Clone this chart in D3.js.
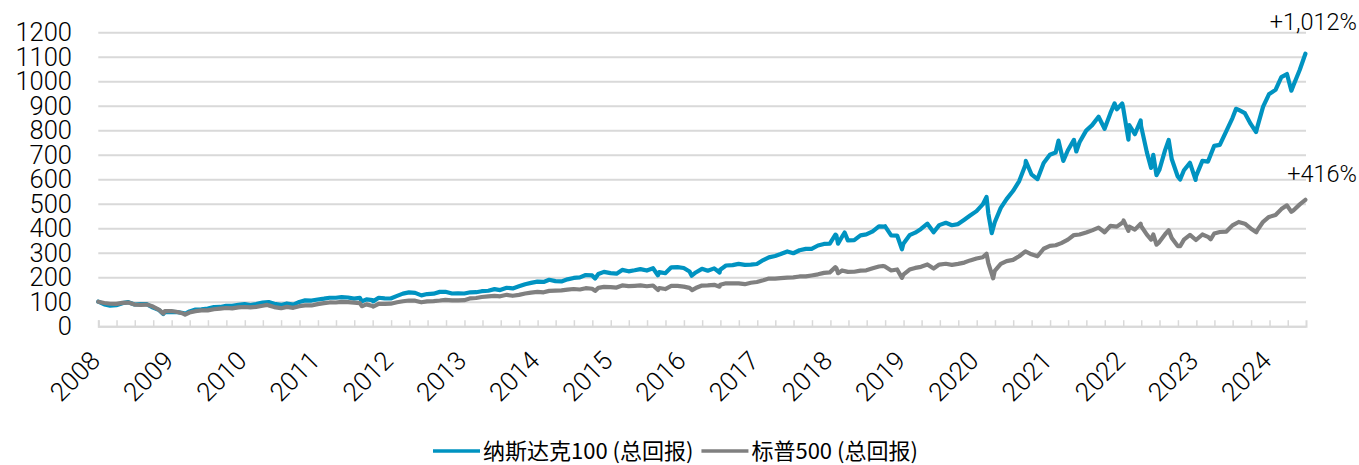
<!DOCTYPE html>
<html><head><meta charset="utf-8">
<script src="https://cdn.jsdelivr.net/npm/d3@7"></script>
<style>
html,body{margin:0;padding:0;background:#fff;}
svg{display:block;}
</style></head>
<body>
<svg id="chart" width="1359" height="465"></svg>
<script>
// ---- data ----
const seriesNames = ["纳斯达克100 (总回报)", "标普500 (总回报)"];
const seriesColors = ["#0093C1", "#808080"];
const yTickValues = [0,100,200,300,400,500,600,700,800,900,1000,1100,1200];
const yearLabels = ["2008","2009","2010","2011","2012","2013","2014","2015","2016","2017","2018","2019","2020","2021","2022","2023","2024"];
const endLabels = ["+1,012%", "+416%"];

const nasdaq100 = [
["2008-01-01",100],["2008-01-31",88.8],["2008-02-29",84.1],["2008-03-31",85.8],["2008-04-30",93.9],["2008-05-30",98.0],["2008-06-30",88.5],["2008-07-31",90.2],["2008-08-29",90.1],["2008-09-30",75.9],["2008-10-31",65.5],["2008-11-20",49.9],["2008-11-28",57.2],["2008-12-31",58.4],
["2009-01-30",57.2],["2009-02-27",54.0],["2009-03-09",50.8],["2009-03-31",60.2],["2009-04-30",67.9],["2009-05-29",69.3],["2009-06-30",71.9],["2009-07-31",77.9],["2009-08-31",78.5],["2009-09-30",83.0],["2009-10-30",83.5],["2009-11-30",87.3],["2009-12-31",90.5],
["2010-01-29",86.4],["2010-02-26",90.2],["2010-03-31",96.2],["2010-04-30",98.7],["2010-05-28",91.4],["2010-06-30",86.8],["2010-07-30",92.8],["2010-08-31",88.2],["2010-09-30",99.1],["2010-10-29",105.3],["2010-11-30",104.7],["2010-12-31",109.1],
["2011-01-31",112.4],["2011-02-28",116.2],["2011-03-31",116.1],["2011-04-29",118.5],["2011-05-31",117.2],["2011-06-30",112.7],["2011-07-29",115.7],["2011-08-08",101.3],["2011-08-31",109.5],["2011-09-30",106.2],["2011-10-03",101.3],["2011-10-31",116.1],["2011-11-30",113.6],["2011-12-30",113.1],
["2012-01-31",123.7],["2012-02-29",133.0],["2012-03-30",138.2],["2012-04-30",136.1],["2012-05-31",126.0],["2012-06-29",131.2],["2012-07-31",132.8],["2012-08-31",140.1],["2012-09-28",140.4],["2012-10-31",133.4],["2012-11-30",134.2],["2012-12-31",133.4],
["2013-01-31",138.4],["2013-02-28",138.7],["2013-03-28",142.8],["2013-04-30",144.7],["2013-05-31",151.3],["2013-06-28",147.4],["2013-07-31",156.8],["2013-08-30",154.3],["2013-09-30",163.0],["2013-10-31",171.4],["2013-11-29",176.7],["2013-12-31",182.0],
["2014-01-31",180.6],["2014-02-28",189.6],["2014-03-31",184.0],["2014-04-30",182.7],["2014-05-30",191.2],["2014-06-30",197.0],["2014-07-31",199.1],["2014-08-29",208.9],["2014-09-30",207.2],["2014-10-15",194.4],["2014-10-31",212.8],["2014-11-28",221.9],["2014-12-31",216.8],
["2015-01-30",214.5],["2015-02-27",229.7],["2015-03-31",224.0],["2015-04-30",228.2],["2015-05-29",233.0],["2015-06-30",227.2],["2015-07-31",236.5],["2015-08-24",207.8],["2015-08-31",220.9],["2015-09-30",216.1],["2015-10-30",240.2],["2015-11-30",241.1],["2015-12-31",237.4],
["2016-01-29",223.4],["2016-02-09",206.0],["2016-02-29",219.3],["2016-03-31",234.0],["2016-04-29",226.6],["2016-05-31",236.1],["2016-06-27",219.3],["2016-06-30",230.6],["2016-07-29",247.7],["2016-08-31",249.1],["2016-09-30",254.5],["2016-10-31",250.6],["2016-11-30",251.0],["2016-12-30",253.9],
["2017-01-31",269.9],["2017-02-28",281.0],["2017-03-31",286.6],["2017-04-28",294.4],["2017-05-31",305.1],["2017-06-30",297.7],["2017-07-31",310.0],["2017-08-31",315.7],["2017-09-29",315.3],["2017-10-31",329.4],["2017-11-30",335.7],["2017-12-29",337.3],
["2018-01-26",373.9],["2018-01-31",370.0],["2018-02-08",337.0],["2018-02-28",364.9],["2018-03-13",382.3],["2018-03-29",350.4],["2018-04-30",351.6],["2018-05-31",370.9],["2018-06-29",374.8],["2018-07-31",387.2],["2018-08-31",407.7],["2018-09-28",406.1],["2018-10-01",407.8],["2018-10-31",370.9],["2018-11-30",370.0],["2018-12-24",314.1],["2018-12-31",337.0],
["2019-01-31",371.5],["2019-02-28",381.7],["2019-03-29",396.8],["2019-04-30",418.5],["2019-05-31",383.3],["2019-06-28",412.6],["2019-07-31",422.1],["2019-08-30",412.1],["2019-09-30",416.8],["2019-10-31",434.8],["2019-11-29",451.9],["2019-12-31",469.7],
["2020-01-31",497.0],["2020-02-19",527.8],["2020-02-28",459.6],["2020-03-16",379.8],["2020-03-31",424.3],["2020-04-30",482.8],["2020-05-29",518.9],["2020-06-30",551.6],["2020-07-31",592.3],["2020-08-31",657.7],["2020-09-02",674.5],["2020-09-30",620.1],["2020-10-30",600.2],["2020-11-30",666.3],["2020-12-31",700.0],
["2021-01-29",709.1],["2021-02-12",757.5],["2021-02-26",708.2],["2021-03-08",674.8],["2021-03-31",718.2],["2021-04-30",760.4],["2021-05-12",713.2],["2021-05-28",750.8],["2021-06-30",798.4],["2021-07-30",820.7],["2021-08-31",854.8],["2021-09-30",805.8],["2021-10-29",869.5],["2021-11-19",909.2],["2021-11-30",885.2],["2021-12-27",908.9],["2021-12-31",895.3],
["2022-01-27",761.5],["2022-01-31",821.2],["2022-02-28",783.7],["2022-03-29",839.7],["2022-03-31",817.6],["2022-04-29",709.6],["2022-05-20",646.3],["2022-05-31",699.2],["2022-06-16",616.5],["2022-06-30",637.3],["2022-07-29",718.6],["2022-08-16",759.9],["2022-08-31",682.3],["2022-09-30",611.1],["2022-10-12",598.5],["2022-10-31",636.5],["2022-11-30",666.9],["2022-12-28",597.0],["2022-12-30",611.5],
["2023-01-31",674.7],["2023-02-28",671.9],["2023-03-31",736.1],["2023-04-28",740.3],["2023-05-31",797.4],["2023-06-30",849.7],["2023-07-18",887.3],["2023-07-31",882.9],["2023-08-31",869.4],["2023-09-29",825.8],["2023-10-26",792.3],["2023-10-31",809.4],["2023-11-30",896.2],["2023-12-29",946.3],
["2024-01-31",964.6],["2024-02-29",1016.6],["2024-03-28",1029.2],["2024-04-19",961.1],["2024-04-30",984.2],["2024-05-31",1047.0],["2024-06-28",1112]
];

const sp500 = [
["2008-01-01",100],["2008-01-31",94.8],["2008-02-29",91.6],["2008-03-31",91.0],["2008-04-30",95.4],["2008-05-30",96.3],["2008-06-30",88.1],["2008-07-31",87.2],["2008-08-29",88.3],["2008-09-30",80.2],["2008-10-31",66.7],["2008-11-20",51.7],["2008-11-28",61.6],["2008-12-31",62.1],
["2009-01-30",58.0],["2009-02-27",51.6],["2009-03-09",47.5],["2009-03-31",56.0],["2009-04-30",61.3],["2009-05-29",64.5],["2009-06-30",64.5],["2009-07-31",69.3],["2009-08-31",71.7],["2009-09-30",74.2],["2009-10-30",72.7],["2009-11-30",76.9],["2009-12-31",78.3],
["2010-01-29",76.9],["2010-02-26",79.0],["2010-03-31",83.7],["2010-04-23",87.1],["2010-04-30",85.0],["2010-05-28",78.0],["2010-06-30",73.8],["2010-07-02",73.2],["2010-07-30",78.9],["2010-08-31",75.1],["2010-09-30",81.7],["2010-10-29",84.7],["2010-11-30",84.6],["2010-12-31",90.1],
["2011-01-31",93.9],["2011-02-28",96.9],["2011-03-31",96.8],["2011-04-29",99.6],["2011-05-31",98.2],["2011-06-30",96.4],["2011-07-29",94.3],["2011-08-08",81.7],["2011-08-31",89.0],["2011-09-30",82.6],["2011-10-03",80.2],["2011-10-31",91.5],["2011-11-30",91.0],["2011-12-30",91.8],
["2012-01-31",97.7],["2012-02-29",101.8],["2012-03-30",104.9],["2012-04-30",104.2],["2012-05-31",97.6],["2012-06-29",101.5],["2012-07-31",102.7],["2012-08-31",104.8],["2012-09-28",107.4],["2012-10-31",105.2],["2012-11-30",105.5],["2012-12-31",106.2],
["2013-01-31",113.8],["2013-02-28",115.1],["2013-03-28",119.2],["2013-04-30",121.4],["2013-05-31",124.0],["2013-06-28",122.1],["2013-07-31",128.1],["2013-08-30",124.1],["2013-09-30",127.8],["2013-10-31",133.5],["2013-11-29",137.3],["2013-12-31",140.4],
["2014-01-31",138.2],["2014-02-28",144.1],["2014-03-31",145.1],["2014-04-30",146.0],["2014-05-30",149.1],["2014-06-30",151.9],["2014-07-31",149.7],["2014-08-29",155.2],["2014-09-30",152.8],["2014-10-15",144.3],["2014-10-31",156.4],["2014-11-28",160.3],["2014-12-31",159.6],
["2015-01-30",157.6],["2015-02-27",166.3],["2015-03-31",163.4],["2015-04-30",164.8],["2015-05-29",166.5],["2015-06-30",163.0],["2015-07-31",166.2],["2015-08-25",147.6],["2015-08-31",155.8],["2015-09-30",151.7],["2015-10-30",164.2],["2015-11-30",164.3],["2015-12-31",161.5],
["2016-01-29",156.4],["2016-02-11",147.4],["2016-02-29",155.7],["2016-03-31",166.0],["2016-04-29",166.4],["2016-05-31",169.0],["2016-06-27",161.3],["2016-06-30",169.2],["2016-07-29",175.2],["2016-08-31",175.0],["2016-09-30",174.7],["2016-10-31",171.4],["2016-11-30",177.2],["2016-12-30",180.5],
["2017-01-31",187.3],["2017-02-28",194.3],["2017-03-31",194.2],["2017-04-28",196.0],["2017-05-31",198.3],["2017-06-30",199.2],["2017-07-31",203.0],["2017-08-31",203.2],["2017-09-29",207.1],["2017-10-31",211.7],["2017-11-30",217.7],["2017-12-29",219.8],
["2018-01-26",241.0],["2018-01-31",236.9],["2018-02-08",216.5],["2018-02-28",227.7],["2018-03-29",221.6],["2018-04-30",222.2],["2018-05-31",226.9],["2018-06-29",228.0],["2018-07-31",236.3],["2018-08-31",243.5],["2018-09-20",245.9],["2018-09-28",244.5],["2018-10-31",227.5],["2018-11-30",231.6],["2018-12-24",197.2],["2018-12-31",210.3],
["2019-01-31",231.2],["2019-02-28",238.0],["2019-03-29",242.3],["2019-04-30",251.9],["2019-05-31",235.3],["2019-06-28",251.5],["2019-07-31",254.8],["2019-08-30",250.2],["2019-09-30",254.5],["2019-10-31",259.7],["2019-11-29",268.6],["2019-12-31",276.3],
["2020-01-31",281.6],["2020-02-19",295.6],["2020-02-28",257.9],["2020-03-23",195.3],["2020-03-31",225.7],["2020-04-30",254.2],["2020-05-29",265.7],["2020-06-30",270.6],["2020-07-31",285.6],["2020-08-31",305.6],["2020-09-30",293.6],["2020-10-30",285.5],["2020-11-30",316.2],["2020-12-31",327.9],
["2021-01-29",330.5],["2021-02-26",339.2],["2021-03-31",353.6],["2021-04-30",372.1],["2021-05-28",374.2],["2021-06-30",382.5],["2021-07-30",391.2],["2021-08-31",402.5],["2021-09-30",383.4],["2021-10-29",409.8],["2021-11-30",406.5],["2021-12-31",424.2],
["2022-01-03",431.3],["2022-01-27",389.0],["2022-01-31",406.4],["2022-02-28",394.1],["2022-03-29",418.3],["2022-03-31",409.1],["2022-04-29",373.5],["2022-05-20",353.4],["2022-05-31",374.4],["2022-06-16",332.6],["2022-06-30",343.3],["2022-07-29",375.4],["2022-08-16",391.8],["2022-08-31",359.9],["2022-09-30",327.0],["2022-10-12",326.6],["2022-10-31",353.5],["2022-11-30",372.9],["2022-12-30",351.7],
["2023-01-31",374.3],["2023-02-28",364.8],["2023-03-13",354.7],["2023-03-31",378.4],["2023-04-28",384.4],["2023-05-31",386.2],["2023-06-30",411.6],["2023-07-31",425.4],["2023-08-31",418.3],["2023-09-29",398.8],["2023-10-27",383.3],["2023-10-31",390.5],["2023-11-30",426.2],["2023-12-29",446.0],
["2024-01-31",453.6],["2024-02-29",478.0],["2024-03-28",493.3],["2024-04-19",466.9],["2024-04-30",473.4],["2024-05-31",497.2],["2024-06-28",516]
];

// ---- drawing ----
(function () {
const parse = d3.timeParse("%Y-%m-%d");
const svg = d3.select("#chart");
const pLeft = 98.3, pRight = 1306, pTop = 32.2, pBottom = 326.2;
const latin = "'Roboto','Liberation Sans',Arial,sans-serif";
const cjk = "'Noto Sans CJK SC','Noto Sans',sans-serif";

const x = d3.scaleTime()
  .domain([parse("2008-01-01"), parse("2024-07-01")])
  .range([pLeft, pRight]);
const y = d3.scaleLinear().domain([0, 1200]).range([pBottom, pTop]);

// y gridlines + labels
const yAxis = d3.axisLeft(y).tickValues(yTickValues).tickFormat(d3.format("d"))
  .tickSize(-(pRight - pLeft)).tickPadding(26.3);
const gy = svg.append("g").attr("transform", `translate(${pLeft},0)`).call(yAxis);
gy.select(".domain").remove();
gy.selectAll(".tick line").attr("stroke", "#d9d9d9").attr("stroke-width", 2);
gy.selectAll(".tick text").attr("font-family", latin).attr("font-weight", 300)
  .attr("font-size", 25.5).attr("fill", "#000").attr("dy", null).attr("y", 8.3);

// x axis: quarterly inner ticks
const xTicksAxis = d3.axisTop(x)
  .tickValues(d3.timeMonth.every(3).range(parse("2008-01-01"), parse("2024-06-01")))
  .tickSize(6).tickFormat("");
const gx = svg.append("g").attr("transform", `translate(0,${pBottom})`).call(xTicksAxis);
gx.select(".domain").attr("stroke", "#d9d9d9").attr("stroke-width", 2);
gx.selectAll(".tick line").attr("stroke", "#d9d9d9").attr("stroke-width", 1.5);

// year labels
const yearAxis = d3.axisBottom(x)
  .tickValues(yearLabels.map(s => parse(s + "-01-01")))
  .tickFormat(d3.timeFormat("%Y")).tickSize(0);
const gl = svg.append("g").attr("transform", `translate(0,${pBottom})`).call(yearAxis);
gl.select(".domain").remove();
gl.selectAll(".tick text")
  .attr("font-family", latin).attr("font-weight", 300).attr("font-size", 26).attr("fill", "#000")
  .attr("text-anchor", "end").attr("dy", null).attr("y", 0)
  .attr("transform", "translate(3,36) rotate(-45)");

// lines
const line = d3.line().x(d => x(parse(d[0]))).y(d => y(d[1])).curve(d3.curveLinear);
const series = [nasdaq100, sp500];
series.forEach((s, i) => {
  svg.append("path").datum(s).attr("d", line)
    .attr("fill", "none").attr("stroke", seriesColors[i]).attr("stroke-width", 4.2)
    .attr("stroke-linejoin", "round").attr("stroke-linecap", "round");
});

// end labels
series.forEach((s, i) => {
  svg.append("text").attr("x", 1357).attr("y", i === 0 ? 30 : 182)
    .attr("text-anchor", "end").attr("font-family", latin).attr("font-weight", 300)
    .attr("font-size", 23.5).attr("fill", "#000").text(endLabels[i]);
});

// legend
let lx = 433;
const ly = 451;
seriesNames.forEach((name, i) => {
  svg.append("line").attr("x1", lx).attr("x2", lx + 47).attr("y1", ly).attr("y2", ly)
    .attr("stroke", seriesColors[i]).attr("stroke-width", 3.5);
  const t = svg.append("text").attr("x", lx + 50).attr("y", ly + 7.5)
    .attr("font-family", cjk).attr("font-size", 22).attr("fill", "#000").text(name);
  lx = lx + 50 + t.node().getComputedTextLength() + 8;
});
})();
</script>
</body></html>
